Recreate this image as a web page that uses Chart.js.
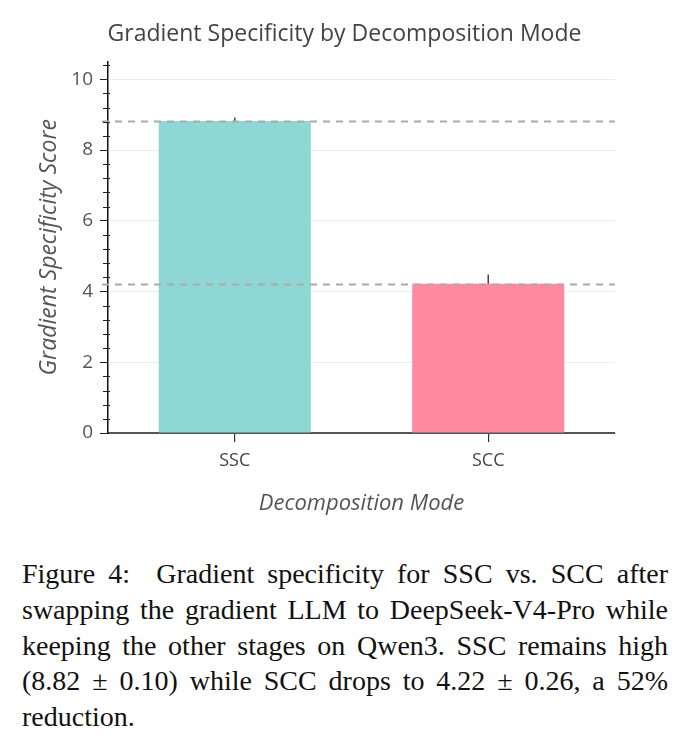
<!DOCTYPE html>
<html>
<head>
<meta charset="utf-8">
<script src="https://cdn.jsdelivr.net/npm/chart.js@4"></script>
<style>
  body { margin: 0; background: #fff; width: 689px; height: 754px; position: relative; overflow: hidden; }
  #wrap { position: absolute; left: 0; top: 0; width: 689px; height: 540px; }
  #caption {
    position: absolute; left: 22px; top: 556px; width: 646px;
    font-family: "Liberation Serif", "DejaVu Serif", serif; font-size: 28px; line-height: 35.8px;
    color: #111; text-align: justify;
  }
</style>
</head>
<body>
<div id="wrap"><canvas id="ch1" width="689" height="540"></canvas></div>
<div id="caption">Figure 4:&nbsp; Gradient specificity for SSC vs. SCC after swapping the gradient LLM to DeepSeek-V4-Pro while keeping the other stages on Qwen3. SSC remains high (8.82 &plusmn; 0.10) while SCC drops to 4.22 &plusmn; 0.26, a 52% reduction.</div>
<script>
// data - gradient specificity per decomposition mode
var modes = ['SSC', 'SCC'];
var scores = [8.82, 4.22];
var errors = [0.10, 0.26];
var yTicks = [0, 2, 4, 6, 8, 10];
var barColors = ['#8ed7d5', '#ff8aa0'];

// error bars (drawn under the bars) + dashed reference lines + minor ticks
var extras = {
  id: 'extras',
  beforeDatasetsDraw: function(chart) {
    var ctx = chart.ctx, x = chart.scales.x, y = chart.scales.y;
    ctx.save();
    ctx.strokeStyle = '#444';
    ctx.lineWidth = 1.5;
    for (var i = 0; i < scores.length; i++) {
      var px = x.getPixelForValue(i);
      var top = y.getPixelForValue(scores[i] + errors[i]);
      var bot = y.getPixelForValue(scores[i] - errors[i]);
      ctx.beginPath();
      ctx.moveTo(px, top); ctx.lineTo(px, bot);
      ctx.moveTo(px - 3, bot); ctx.lineTo(px + 3, bot);
      ctx.stroke();
    }
    ctx.restore();
  },
  afterDatasetsDraw: function(chart) {
    var ctx = chart.ctx, y = chart.scales.y, a = chart.chartArea;
    ctx.save();
    ctx.strokeStyle = '#aaaaaa';
    ctx.lineWidth = 2;
    ctx.setLineDash([7, 6]);
    scores.forEach(function(v) {
      var py = Math.round(y.getPixelForValue(v)) + 0.5;
      ctx.beginPath();
      ctx.moveTo(a.left - 6, py); ctx.lineTo(a.right, py);
      ctx.stroke();
    });
    ctx.setLineDash([]);
    ctx.strokeStyle = '#222';
    ctx.lineWidth = 1;
    for (var v = 0.4; v < 10.45; v += 0.4) {
      var r = Math.round(v * 10) / 10;
      if (r % 2 === 0) continue;
      var p = Math.round(y.getPixelForValue(r)) + 0.5;
      ctx.beginPath();
      ctx.moveTo(a.left - 5, p); ctx.lineTo(a.left + 2, p);
      ctx.stroke();
    }
    ctx.restore();
  }
};

var score = document.getElementById('ch1').getContext('2d');
var myChart = new Chart(score, {
  type: 'bar',
  data: {
    labels: modes,
    datasets: [{
      label: 'Gradient Specificity Score',
      data: scores,
      backgroundColor: barColors,
      borderWidth: 0,
      barPercentage: 0.6,
      categoryPercentage: 1.0
    }]
  },
  options: {
    responsive: false,
    animation: false,
    layout: { padding: { left: 0, right: 0, top: 0, bottom: 19 } },
    plugins: {
      legend: { display: false },
      tooltip: { enabled: false },
      title: {
        display: true,
        text: 'Gradient Specificity by Decomposition Mode',
        color: '#444',
        font: { family: 'Open Sans', size: 23, weight: 'normal' },
        padding: { top: 21, bottom: 13 }
      }
    },
    scales: {
      x: {
        offset: true,
        afterFit: function(s) { s.height = 88; },
        grid: { display: true, drawOnChartArea: false, drawTicks: true, tickLength: 9, offset: false, color: '#333', lineWidth: 1.2 },
        border: { display: true, color: '#555', width: 2 },
        ticks: { color: '#444', padding: 8, font: { family: 'Open Sans', size: 18 } },
        title: {
          display: true, text: 'Decomposition Mode', color: '#555',
          font: { family: 'Open Sans', size: 22, style: 'italic' }, padding: { top: 10 }
        }
      },
      y: {
        min: 0,
        max: 10.5,
        afterFit: function(s) { s.width = 108; },
        afterBuildTicks: function(s) { s.ticks = yTicks.map(function(v) { return { value: v }; }); },
        grid: { color: '#ececec', lineWidth: 1, drawTicks: true, tickLength: 8, tickColor: '#222' },
        border: { display: true, color: '#111', width: 1.5 },
        ticks: { color: '#555', padding: 7, font: { family: 'Open Sans', size: 19 } },
        title: {
          display: true, text: 'Gradient Specificity Score', color: '#555',
          font: { family: 'Open Sans', size: 23, style: 'italic' }, padding: { top: 36, bottom: 0 }
        }
      },
      // empty right-hand spacer so the plot ends where the reference's does
      yr: {
        position: 'right',
        display: true,
        afterFit: function(s) { s.width = 74; },
        grid: { display: false },
        border: { display: false },
        ticks: { display: false }
      }
    }
  },
  plugins: [extras]
});
</script>
</body>
</html>
